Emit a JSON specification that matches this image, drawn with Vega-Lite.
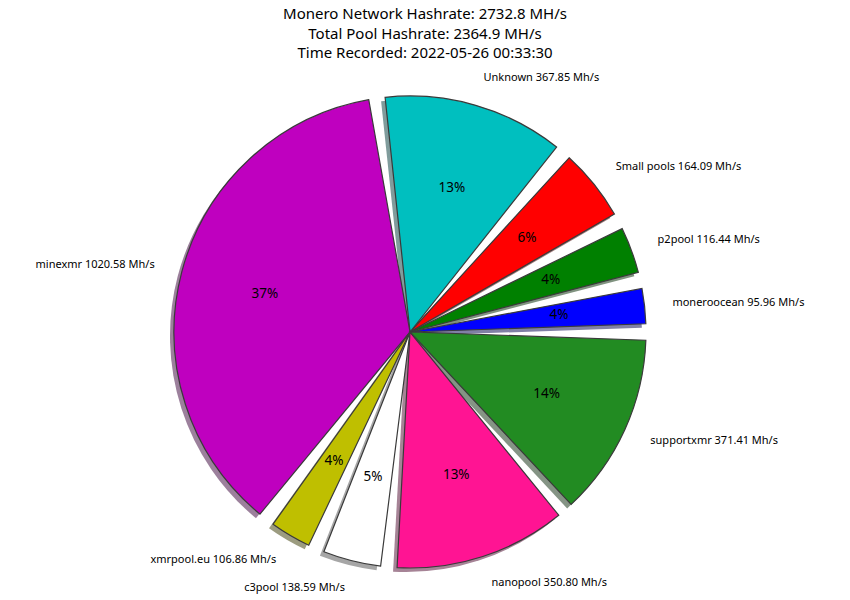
{
  "$schema": "https://vega.github.io/schema/vega-lite/v6.json",
  "width": 850,
  "height": 600,
  "autosize": {"type": "fit", "contains": "padding"},
  "background": "white",
  "padding": {"top": 7, "left": 5, "right": 5, "bottom": 5},
  "title": {
    "text": ["Monero Network Hashrate: 2732.8 MH/s", "Total Pool Hashrate: 2364.9 MH/s", "Time Recorded: 2022-05-26 00:33:30"],
    "font": "Noto Sans",
    "fontSize": 15,
    "fontWeight": "normal",
    "lineHeight": 19.5,
    "anchor": "middle",
    "color": "#000000",
    "offset": 8
  },
  "config": {"view": {"stroke": null}},
  "data": {
    "values": [
      {"idx": 1, "pool": "moneroocean", "hashrate": 95.96, "name": "moneroocean 95.96 Mh/s", "pct": "4%", "side": "right"},
      {"idx": 2, "pool": "p2pool", "hashrate": 116.44, "name": "p2pool 116.44 Mh/s", "pct": "4%", "side": "right"},
      {"idx": 3, "pool": "Small pools", "hashrate": 164.09, "name": "Small pools 164.09 Mh/s", "pct": "6%", "side": "right"},
      {"idx": 4, "pool": "Unknown", "hashrate": 367.85, "name": "Unknown 367.85 Mh/s", "pct": "13%", "side": "right"},
      {"idx": 5, "pool": "minexmr", "hashrate": 1020.58, "name": "minexmr 1020.58 Mh/s", "pct": "37%", "side": "left"},
      {"idx": 6, "pool": "xmrpool.eu", "hashrate": 106.86, "name": "xmrpool.eu 106.86 Mh/s", "pct": "4%", "side": "left"},
      {"idx": 7, "pool": "c3pool", "hashrate": 138.59, "name": "c3pool 138.59 Mh/s", "pct": "5%", "side": "left"},
      {"idx": 8, "pool": "nanopool", "hashrate": 350.80, "name": "nanopool 350.80 Mh/s", "pct": "13%", "side": "right"},
      {"idx": 9, "pool": "supportxmr", "hashrate": 371.41, "name": "supportxmr 371.41 Mh/s", "pct": "14%", "side": "right"}
    ]
  },
  "encoding": {
    "theta": {"field": "hashrate", "type": "quantitative", "stack": true, "scale": {"range": [1.5708, -4.7124]}},
    "order": {"field": "idx", "type": "quantitative"}
  },
  "layer": [
    {
      "mark": {"type": "arc", "radius": 236, "padAngle": 0.07, "xOffset": -19, "yOffset": 4},
      "encoding": {
        "color": {
          "field": "pool", "type": "nominal", "legend": null,
          "scale": {
            "domain": ["moneroocean", "p2pool", "Small pools", "Unknown", "minexmr", "xmrpool.eu", "c3pool", "nanopool", "supportxmr"],
            "range": ["#8080a6", "#809380", "#a68080", "#809c9c", "#9c809c", "#9c9c80", "#a6a6a6", "#a68396", "#859485"]
          }
        }
      }
    },
    {
      "mark": {"type": "arc", "radius": 236, "padAngle": 0.07, "xOffset": -15, "stroke": "#3a3a3a", "strokeWidth": 1.2},
      "encoding": {
        "color": {
          "field": "pool", "type": "nominal", "legend": null,
          "scale": {
            "domain": ["moneroocean", "p2pool", "Small pools", "Unknown", "minexmr", "xmrpool.eu", "c3pool", "nanopool", "supportxmr"],
            "range": ["#0000ff", "#008000", "#ff0000", "#00bfbf", "#bf00bf", "#bfbf00", "#ffffff", "#ff1493", "#228b22"]
          }
        }
      }
    },
    {
      "mark": {"type": "text", "radius": 150, "xOffset": -15, "font": "Noto Sans", "fontSize": 13.5, "color": "#000000", "align": "center", "baseline": "middle"},
      "encoding": {"text": {"field": "pct"}}
    },
    {
      "mark": {"type": "text", "radius": 264, "xOffset": -15, "font": "Noto Sans", "fontSize": 11, "color": "#000000", "align": "left", "baseline": "middle"},
      "encoding": {"text": {"condition": {"test": "datum.side == 'right'", "field": "name"}, "value": ""}}
    },
    {
      "mark": {"type": "text", "radius": 264, "xOffset": -15, "font": "Noto Sans", "fontSize": 11, "color": "#000000", "align": "right", "baseline": "middle"},
      "encoding": {"text": {"condition": {"test": "datum.side == 'left'", "field": "name"}, "value": ""}}
    }
  ],
  "resolve": {"scale": {"color": "independent"}}
}
